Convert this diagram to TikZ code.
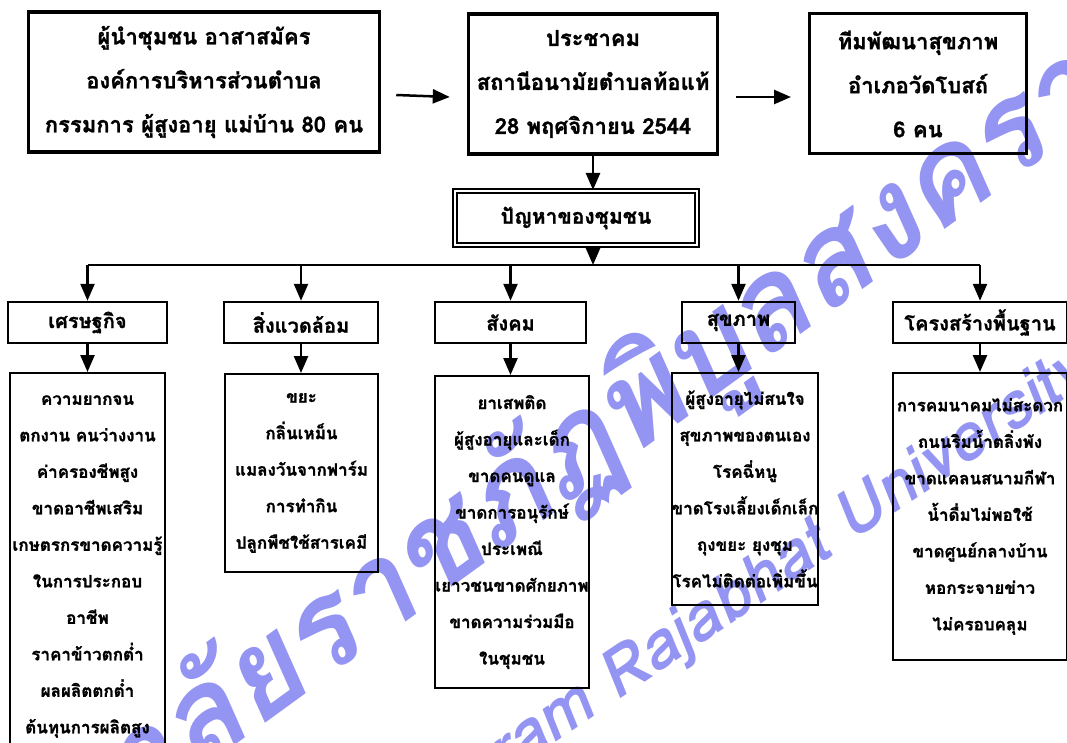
\documentclass[tikz,border=0pt]{standalone}
\usepackage{fontspec}
\newfontfamily\thaifont[Script=Thai, BoldFeatures={FakeBold=1.2}]{Loma}
\usetikzlibrary{arrows.meta}
\definecolor{wmblue}{RGB}{112,112,238}

\begin{document}
\begin{tikzpicture}[x=1pt,y=-1pt,
    topbox/.style={draw, line width=3.5pt, align=center, inner sep=0pt,
      font=\thaifont\bfseries\fontsize{22}{44}\selectfont},
    catbox/.style={draw, line width=2.5pt, inner sep=0pt, minimum height=41pt,
      font=\thaifont\bfseries\fontsize{20}{36}\selectfont},
    listbox/.style={draw, line width=2pt, align=center, inner sep=0pt,
      font=\thaifont\bfseries\fontsize{17}{36.5}\selectfont},
    flow/.style={line width=2.5pt, -{Triangle[length=17pt,width=14pt]}},
    wm/.style={text=wmblue, opacity=0.75, font=\thaifont\bfseries\itshape\fontsize{125}{125}\selectfont}]
    \useasboundingbox (0,0) rectangle (1067,743);

    \node[wm, rotate=36] (w1) at (450,545) {มหาวิทยาลัยราชภัฏพิบูลสงคราม};
    \node[wm, rotate=34, font=\thaifont\bfseries\itshape\fontsize{66}{66}\selectfont] (w2) at (655,655) {Pibulsongkram Rajabhat University};

    \node[topbox, minimum width=351pt, minimum height=140pt] (b1) at (204,82)
      {ผู้นำชุมชน อาสาสมัคร\\องค์การบริหารส่วนตำบล\\กรรมการ ผู้สูงอายุ แม่บ้าน 80 คน};
    \node[topbox, minimum width=249pt, minimum height=140pt] (b2) at (593,84)
      {ประชาคม\\สถานีอนามัยตำบลท้อแท้\\28 พฤศจิกายน 2544};
    \node[topbox, line width=3pt, minimum width=217pt, minimum height=140pt] (b3) at (918,84)
      {ทีมพัฒนาสุขภาพ\\อำเภอวัดโบสถ์\\6 คน};
    \node[catbox, line width=2pt, double, double distance=2.5pt, minimum width=242pt,
      minimum height=54pt, font=\thaifont\bfseries\fontsize{21}{36}\selectfont] (p) at (576,218) {ปัญหาของชุมชน};
    \coordinate (bus) at (593,265);

    \node[catbox, minimum width=159pt] (c1) at (87.5,322.5) {เศรษฐกิจ};
    \node[catbox, minimum width=154pt] (c2) at (301,322.5) {สิ่งแวดล้อม};
    \node[catbox, minimum width=151pt] (c3) at (510.5,322.5) {สังคม};
    \node[catbox, minimum width=113pt] (c4) at (738.5,322.5) {สุขภาพ};
    \node[catbox, minimum width=174pt] (c5) at (980,322.5) {โครงสร้างพื้นฐาน};

    \node[listbox, minimum width=155pt, minimum height=387pt] (d1) at (87.5,566.5)
      {ความยากจน\\ตกงาน คนว่างงาน\\ค่าครองชีพสูง\\ขาดอาชีพเสริม\\เกษตรกรขาดความรู้\\ในการประกอบ\\อาชีพ\\ราคาข้าวตกต่ำ\\ผลผลิตตกต่ำ\\ต้นทุนการผลิตสูง};
    \node[listbox, minimum width=153pt, minimum height=198pt] (d2) at (301.5,473)
      {ขยะ\\กลิ่นเหม็น\\แมลงวันจากฟาร์ม\\การทำกิน\\ปลูกพืชใช้สารเคมี};
    \node[listbox, minimum width=150pt, minimum height=312pt] (d3) at (512,532)
      {ยาเสพติด\\ผู้สูงอายุและเด็ก\\ขาดคนดูแล\\ขาดการอนุรักษ์\\ประเพณี\\เยาวชนขาดศักยภาพ\\ขาดความร่วมมือ\\ในชุมชน};
    \node[listbox, minimum width=130pt, minimum height=232pt] (d4) at (745,489)
      {ผู้สูงอายุไม่สนใจ\\สุขภาพของตนเอง\\โรคฉี่หนู\\ขาดโรงเลี้ยงเด็กเล็ก\\ถุงขยะ ยุงชุม\\โรคไม่ติดต่อเพิ่มขึ้น};
    \node[listbox, minimum width=174pt, minimum height=287pt] (d5) at (980,516.5)
      {การคมนาคมไม่สะดวก\\ถนนริมน้ำตลิ่งพัง\\ขาดแคลนสนามกีฬา\\น้ำดื่มไม่พอใช้\\ขาดศูนย์กลางบ้าน\\หอกระจายข่าว\\ไม่ครอบคลุม};

    \draw[flow] ([shift={(15,13)}]b1.east) -- ([shift={(-17,13)}]b2.west);
    \draw[flow] ([shift={(17,13)}]b2.east) -- ([shift={(-17,13)}]b3.west);
    \draw[flow] (b2.south) -- (b2.south |- p.north);
    \draw[flow] (bus |- p.south) -- (bus);
    \draw[line width=2.5pt] (c1.north |- bus) -- (c5.north |- bus);
    \foreach \c/\d in {c1/d1,c2/d2,c3/d3,c4/d4,c5/d5} {
      \draw[flow] (\c.north |- bus) -- (\c.north);
      \draw[flow] (\c.south) -- (\c.south |- \d.north);
    }
\end{tikzpicture}
\end{document}
